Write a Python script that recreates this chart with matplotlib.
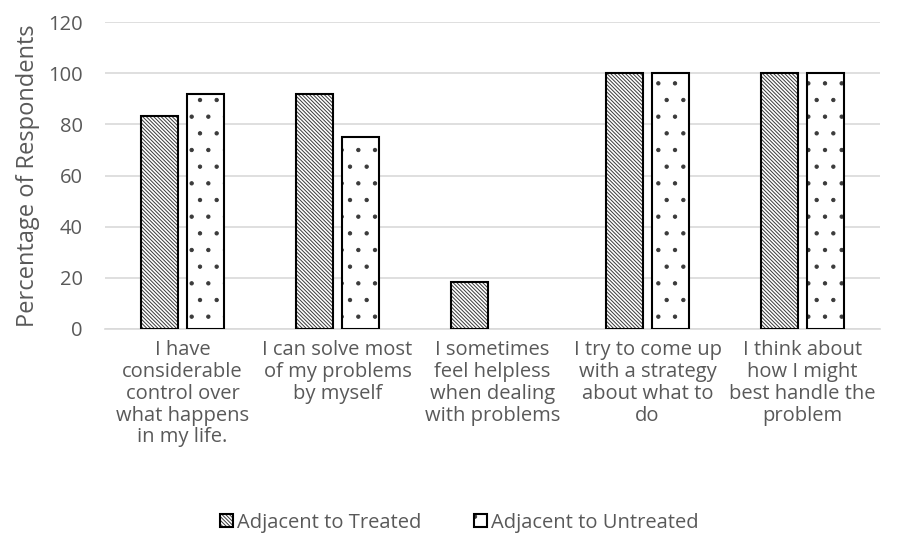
import numpy as np
import matplotlib
matplotlib.use("Agg")
import matplotlib.pyplot as plt
from matplotlib.patches import Patch

plt.rcParams['font.family'] = ['Open Sans', 'DejaVu Sans']
plt.rcParams['hatch.linewidth'] = 0.7

# data
categories = [
    "I have\nconsiderable\ncontrol over\nwhat happens\nin my life.",
    "I can solve most\nof my problems\nby myself",
    "I sometimes\nfeel helpless\nwhen dealing\nwith problems",
    "I try to come up\nwith a strategy\nabout what to\ndo",
    "I think about\nhow I might\nbest handle the\nproblem",
]
treated = [83.3, 91.7, 18.2, 100, 100]
untreated = [91.7, 75, 0, 100, 100]
series_names = ["Adjacent to Treated", "Adjacent to Untreated"]

text_color = "#595959"
hatch_color = "#3a3a3a"

fig = plt.figure(figsize=(9.01, 5.39), dpi=100)
ax = fig.add_axes([105 / 901, (539 - 329) / 539, 775 / 901, 307 / 539])

x = np.arange(len(categories))
w = 0.24
gap = 0.055
pos = [x - (w + gap) / 2, x + (w + gap) / 2]
hatches = ["\\" * 9, "."]
handles = []
for p, vals, h, name in zip(pos, [treated, untreated], hatches, series_names):
    # hatch drawn in grey, outline drawn separately in black
    fill = ax.bar(p, vals, w, facecolor="white", edgecolor=hatch_color,
                  hatch=h, linewidth=0, zorder=3)
    edge = ax.bar(p, vals, w, facecolor="none", edgecolor="black",
                  linewidth=1.5, zorder=4)
    for rf, re, v in zip(fill, edge, vals):
        if v == 0:
            rf.set_visible(False)
            re.set_visible(False)
    handles.append((Patch(facecolor="white", edgecolor=hatch_color, hatch=h, linewidth=0),
                    Patch(facecolor="none", edgecolor="black", linewidth=1.5)))

ax.set_xlim(-0.5, len(categories) - 0.5)
ax.set_ylim(0, 120)
ax.set_yticks(range(0, 121, 20))
ax.yaxis.grid(True, color="#d9d9d9", linewidth=1.2, zorder=0)
ax.set_axisbelow(True)
for s in ["top", "right", "left"]:
    ax.spines[s].set_visible(False)
ax.spines["bottom"].set_color("#d9d9d9")
ax.spines["bottom"].set_linewidth(1.2)
ax.tick_params(length=0, colors=text_color, labelsize=14.5)
ax.tick_params(axis="y", pad=16)
ax.tick_params(axis="x", pad=8)
ax.set_xticks(x)
ax.set_xticklabels(categories, linespacing=1.12)
ax.set_ylabel("Percentage of Respondents", color=text_color, fontsize=17, labelpad=6)

leg = fig.legend(handles=handles, labels=series_names, loc="lower center",
                 bbox_to_anchor=(0.51, -0.022), ncol=2, frameon=False, fontsize=14.5,
                 handlelength=0.65, handleheight=0.65, handletextpad=0.2,
                 columnspacing=2.6, labelcolor=text_color)

fig.savefig("out.png", dpi=100)
